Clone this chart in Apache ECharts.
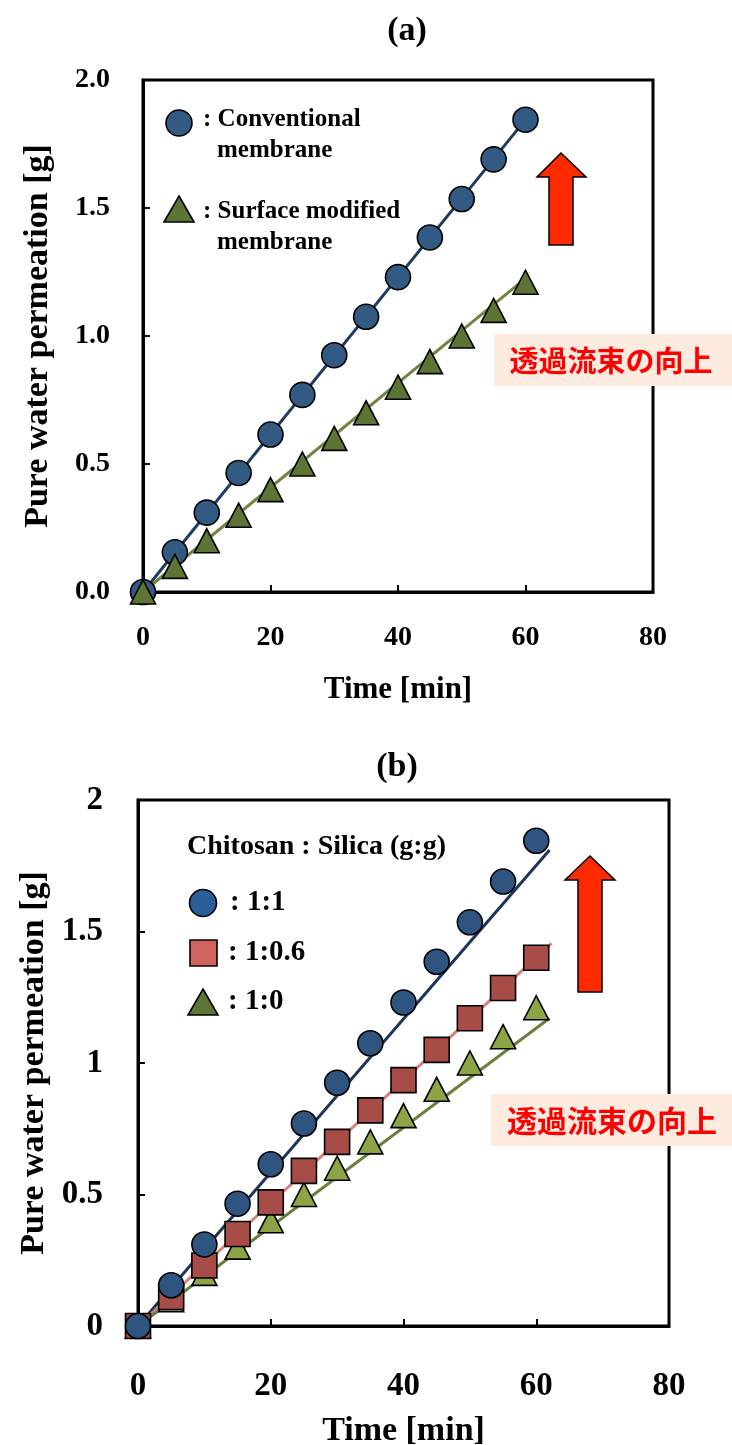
<!DOCTYPE html>
<html>
<head>
<meta charset="utf-8">
<script src="https://cdn.jsdelivr.net/npm/echarts@6/dist/echarts.min.js"></script>
<style>
html,body{margin:0;padding:0;background:#fff;}
#chart{width:732px;height:1445px;}
</style>
</head>
<body>
<div id="chart"></div>
<script>
// ---- data ----
const timeMin = [0, 5, 10, 15, 20, 25, 30, 35, 40, 45, 50, 55, 60];
// panel (a)
const conventionalA = [0, 0.155, 0.31, 0.465, 0.615, 0.77, 0.925, 1.075, 1.23, 1.385, 1.535, 1.69, 1.845];
const surfaceModA = [0, 0.10, 0.20, 0.30, 0.40, 0.50, 0.60, 0.70, 0.80, 0.90, 1.00, 1.10, 1.21];
const fitConventionalA = [[0, 0], [60, 1.845]];
const fitSurfaceModA = [[0, 0], [60, 1.225]];
// panel (b)
const ratio1to1 = [0, 0.155, 0.31, 0.465, 0.615, 0.77, 0.925, 1.075, 1.23, 1.385, 1.535, 1.69, 1.845];
const ratio1to06 = [0, 0.11, 0.23, 0.35, 0.47, 0.59, 0.70, 0.82, 0.935, 1.05, 1.17, 1.285, 1.40];
const ratio1to0 = [0, 0.10, 0.20, 0.30, 0.40, 0.50, 0.60, 0.70, 0.80, 0.90, 1.00, 1.10, 1.21];
const fit1to1 = [[0, 0], [62, 1.81]];
const fit1to06 = [[0, 0], [62.3, 1.455]];
const fit1to0 = [[0, 0], [62, 1.17]];
// ticks
const xTicks = [0, 20, 40, 60, 80];
const yTicksA = ['0.0', '0.5', '1.0', '1.5', '2.0'];
const yTicksB = ['0', '0.5', '1', '1.5', '2'];
// texts
const titleA = '(a)', titleB = '(b)';
const xName = 'Time [min]';
const yName = 'Pure water permeation [g]';
const noteJa = '透過流束の向上';

const SERIF = '"Liberation Serif", "Times New Roman", serif';
const pts = arr => timeMin.map((t, i) => [t, arr[i]]);

function axisCommon(fs, margin) {
  return {
    type: 'value', min: 0, max: 80, interval: 20,
    axisLine: { show: true, onZero: false, lineStyle: { color: '#000', width: 3 } },
    axisTick: { show: true, inside: true, length: 7, lineStyle: { color: '#000', width: 2 } },
    splitLine: { show: false },
    axisLabel: { color: '#000', fontFamily: SERIF, fontWeight: 'bold', fontSize: fs, margin: margin }
  };
}

const chart = echarts.init(document.getElementById('chart'), null, { renderer: 'canvas' });

const option = {
  animation: false,
  backgroundColor: '#fff',
  grid: [
    { left: 143, top: 80, width: 510, height: 512, show: true, borderColor: '#000', borderWidth: 3,
      backgroundColor: 'transparent', containLabel: false, outerBoundsMode: 'none' },
    { left: 138, top: 800, width: 531, height: 526, show: true, borderColor: '#000', borderWidth: 3,
      backgroundColor: 'transparent', containLabel: false, outerBoundsMode: 'none' }
  ],
  xAxis: [
    Object.assign(axisCommon(28, 32), {
      gridIndex: 0, name: xName, nameLocation: 'middle', nameGap: 82,
      nameTextStyle: { color: '#000', fontFamily: SERIF, fontWeight: 'bold', fontSize: 31 }
    }),
    Object.assign(axisCommon(33, 44), {
      gridIndex: 1, name: xName, nameLocation: 'middle', nameGap: 88,
      nameTextStyle: { color: '#000', fontFamily: SERIF, fontWeight: 'bold', fontSize: 34 }
    })
  ],
  yAxis: [
    {
      gridIndex: 0, type: 'value', min: 0, max: 2, interval: 0.5,
      axisLine: { show: true, onZero: false, lineStyle: { color: '#000', width: 3 } },
      axisTick: { show: true, inside: true, length: 7, lineStyle: { color: '#000', width: 2 } },
      splitLine: { show: false },
      axisLabel: { color: '#000', fontFamily: SERIF, fontWeight: 'bold', fontSize: 28, margin: 33,
        formatter: v => yTicksA[Math.round(v / 0.5)] },
      name: yName, nameLocation: 'middle', nameGap: 88,
      nameTextStyle: { color: '#000', fontFamily: SERIF, fontWeight: 'bold', fontSize: 34 }
    },
    {
      gridIndex: 1, type: 'value', min: 0, max: 2, interval: 0.5,
      axisLine: { show: true, onZero: false, lineStyle: { color: '#000', width: 3 } },
      axisTick: { show: true, inside: true, length: 7, lineStyle: { color: '#000', width: 2 } },
      splitLine: { show: false },
      axisLabel: { color: '#000', fontFamily: SERIF, fontWeight: 'bold', fontSize: 33, margin: 35,
        formatter: v => yTicksB[Math.round(v / 0.5)] },
      name: yName, nameLocation: 'middle', nameGap: 84,
      nameTextStyle: { color: '#000', fontFamily: SERIF, fontWeight: 'bold', fontSize: 34 }
    }
  ],
  series: [
    // panel (a)
    { type: 'line', xAxisIndex: 0, yAxisIndex: 0, data: fitConventionalA, symbol: 'none', z: 2,
      lineStyle: { color: '#1f3b5e', width: 3 } },
    { type: 'line', xAxisIndex: 0, yAxisIndex: 0, data: fitSurfaceModA, symbol: 'none', z: 2,
      lineStyle: { color: '#6f8440', width: 3 } },
    { type: 'scatter', xAxisIndex: 0, yAxisIndex: 0, data: pts(conventionalA), symbol: 'circle', symbolSize: 25, z: 3,
      itemStyle: { color: '#335a82', borderColor: '#000', borderWidth: 1.6, opacity: 1 } },
    { type: 'scatter', xAxisIndex: 0, yAxisIndex: 0, data: pts(surfaceModA), symbol: 'triangle', symbolSize: [25, 24], z: 4,
      itemStyle: { color: '#5e7434', borderColor: '#000', borderWidth: 1.6, opacity: 1 } },
    // panel (b)
    { type: 'line', xAxisIndex: 1, yAxisIndex: 1, data: fit1to1, symbol: 'none', z: 2,
      lineStyle: { color: '#1d3557', width: 3 } },
    { type: 'line', xAxisIndex: 1, yAxisIndex: 1, data: fit1to06, symbol: 'none', z: 2,
      lineStyle: { color: '#d9807a', width: 3 } },
    { type: 'line', xAxisIndex: 1, yAxisIndex: 1, data: fit1to0, symbol: 'none', z: 2,
      lineStyle: { color: '#6b7f3c', width: 3 } },
    { type: 'scatter', xAxisIndex: 1, yAxisIndex: 1, data: pts(ratio1to0), symbol: 'triangle', symbolSize: [25, 24], z: 3,
      itemStyle: { color: '#8da447', borderColor: '#000', borderWidth: 1.6, opacity: 1 } },
    { type: 'scatter', xAxisIndex: 1, yAxisIndex: 1, data: pts(ratio1to06), symbol: 'rect', symbolSize: 25, z: 4,
      itemStyle: { color: '#a84c47', borderColor: '#000', borderWidth: 1.6, opacity: 1 } },
    { type: 'scatter', xAxisIndex: 1, yAxisIndex: 1, data: pts(ratio1to1), symbol: 'circle', symbolSize: 25, z: 5,
      itemStyle: { color: '#2f5480', borderColor: '#000', borderWidth: 1.6, opacity: 1 } }
  ],
  graphic: [
    // titles
    { type: 'text', x: 407, y: 31, z: 100, style: { text: titleA, font: 'bold 34px ' + SERIF, fill: '#000', align: 'center', verticalAlign: 'middle' } },
    { type: 'text', x: 397, y: 767, z: 100, style: { text: titleB, font: 'bold 34px ' + SERIF, fill: '#000', align: 'center', verticalAlign: 'middle' } },
    // legend (a)
    { type: 'circle', z: 100, shape: { cx: 179, cy: 123, r: 13 }, style: { fill: '#335a82', stroke: '#000', lineWidth: 1.6 } },
    { type: 'text', x: 203, y: 120, z: 100, style: { text: ': Conventional', font: 'bold 25px ' + SERIF, fill: '#000', align: 'left', verticalAlign: 'middle' } },
    { type: 'text', x: 217, y: 151, z: 100, style: { text: 'membrane', font: 'bold 25px ' + SERIF, fill: '#000', align: 'left', verticalAlign: 'middle' } },
    { type: 'polygon', z: 100, shape: { points: [[179, 196], [194, 222], [164, 222]] }, style: { fill: '#5e7434', stroke: '#000', lineWidth: 1.6 } },
    { type: 'text', x: 203, y: 212, z: 100, style: { text: ': Surface modified', font: 'bold 25px ' + SERIF, fill: '#000', align: 'left', verticalAlign: 'middle' } },
    { type: 'text', x: 217, y: 243, z: 100, style: { text: 'membrane', font: 'bold 25px ' + SERIF, fill: '#000', align: 'left', verticalAlign: 'middle' } },
    // arrow (a)
    { type: 'polygon', z: 100, shape: { points: [[561, 153], [586, 177], [573, 177], [573, 245], [549, 245], [549, 177], [537, 177]] },
      style: { fill: '#ff2a00', stroke: '#000', lineWidth: 1.5 } },
    // note (a)
    { type: 'rect', z: 100, shape: { x: 494, y: 334, width: 238, height: 52 }, style: { fill: '#fdebe0' } },
    { type: 'text', x: 611, y: 361, z: 101, style: { text: noteJa, font: 'bold 29px "Noto Sans CJK JP"', fill: '#ff0000', align: 'center', verticalAlign: 'middle' } },
    // legend (b)
    { type: 'text', x: 187, y: 847, z: 100, style: { text: 'Chitosan : Silica (g:g)', font: 'bold 28px ' + SERIF, fill: '#000', align: 'left', verticalAlign: 'middle' } },
    { type: 'circle', z: 100, shape: { cx: 203, cy: 903, r: 13.5 }, style: { fill: '#2a5f99', stroke: '#000', lineWidth: 1.6 } },
    { type: 'text', x: 230, y: 903, z: 100, style: { text: ': 1:1', font: 'bold 29px ' + SERIF, fill: '#000', align: 'left', verticalAlign: 'middle' } },
    { type: 'rect', z: 100, shape: { x: 190, y: 940, width: 27, height: 26 }, style: { fill: '#d0645e', stroke: '#000', lineWidth: 1.6 } },
    { type: 'text', x: 228, y: 953, z: 100, style: { text: ': 1:0.6', font: 'bold 29px ' + SERIF, fill: '#000', align: 'left', verticalAlign: 'middle' } },
    { type: 'polygon', z: 100, shape: { points: [[203, 989], [218, 1015], [188, 1015]] }, style: { fill: '#5f7535', stroke: '#000', lineWidth: 1.6 } },
    { type: 'text', x: 228, y: 1002, z: 100, style: { text: ': 1:0', font: 'bold 29px ' + SERIF, fill: '#000', align: 'left', verticalAlign: 'middle' } },
    // arrow (b)
    { type: 'polygon', z: 100, shape: { points: [[590, 856], [615, 880], [602, 880], [602, 992], [578, 992], [578, 880], [565, 880]] },
      style: { fill: '#ff2a00', stroke: '#000', lineWidth: 1.5 } },
    // note (b)
    { type: 'rect', z: 100, shape: { x: 491, y: 1094, width: 241, height: 52 }, style: { fill: '#fdebe0' } },
    { type: 'text', x: 612, y: 1121, z: 101, style: { text: noteJa, font: 'bold 30px "Noto Sans CJK JP"', fill: '#ff0000', align: 'center', verticalAlign: 'middle' } }
  ]
};
chart.setOption(option);
</script>
</body>
</html>
